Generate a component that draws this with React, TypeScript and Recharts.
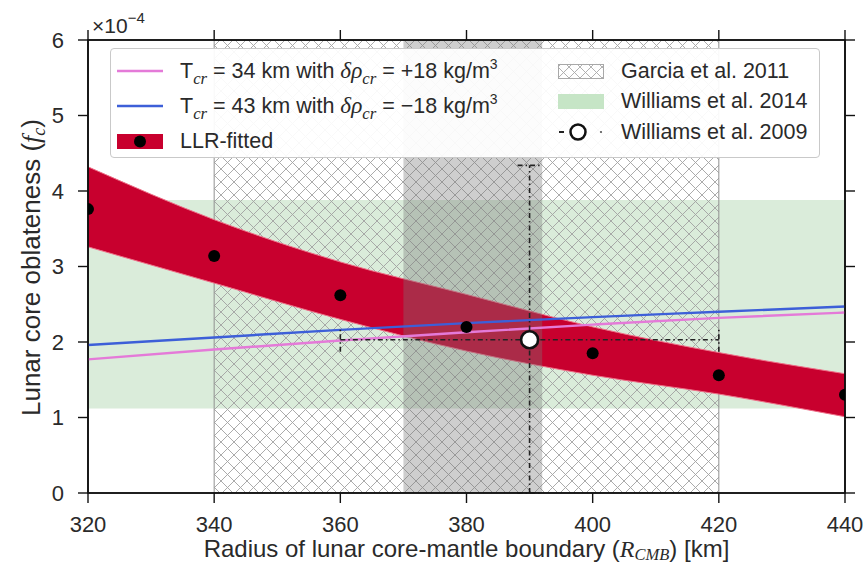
import React from 'react';
import {
  ComposedChart,
  XAxis,
  YAxis,
  Area,
  Line,
  Scatter,
  ReferenceArea,
  ErrorBar,
  Legend,
} from 'recharts';

// ---------- data ----------
const radius = [320, 340, 360, 380, 400, 420, 440];
const llrLower = [3.26, 2.78, 2.3, 1.88, 1.56, 1.31, 1.01];
const llrUpper = [4.32, 3.62, 3.06, 2.63, 2.2, 1.86, 1.58];
const llrFitted = [3.76, 3.14, 2.62, 2.2, 1.85, 1.56, 1.3];
const tcr34 = [1.77, 1.9, 2.02, 2.13, 2.23, 2.32, 2.39];
const tcr43 = [1.96, 2.06, 2.16, 2.25, 2.33, 2.4, 2.47];
const garciaRange = [340, 420];
const williams2014Range = [1.12, 3.88];
const grayRange = [370, 392];
const williams2009X = [390];
const williams2009Y = [2.03];
const williams2009XErr = [30];
const williams2009YErr: [number, number][] = [[2.03, 2.31]];
const xTicks = [320, 340, 360, 380, 400, 420, 440];
const yTicks = [0, 1, 2, 3, 4, 5, 6];
const xDomain: [number, number] = [320, 440];
const yDomain: [number, number] = [0, 6];

const bandData = radius.map((x, i) => ({ x, band: [llrLower[i], llrUpper[i]] }));
const tcr34Data = radius.map((x, i) => ({ x, y: tcr34[i] }));
const tcr43Data = radius.map((x, i) => ({ x, y: tcr43[i] }));
const fittedData = radius.map((x, i) => ({ x, y: llrFitted[i] }));
const w2009Data = williams2009X.map((x, i) => ({
  x,
  y: williams2009Y[i],
  xErr: williams2009XErr[i],
  yErr: williams2009YErr[i],
}));

// ---------- styles ----------
const FONT = "'Liberation Sans', Arial, Helvetica, sans-serif";
const SERIF = "'Liberation Serif', 'DejaVu Serif', serif";
const PINK = '#e47ad8';
const BLUE = '#3d5fd8';
const RED = '#c8002e';
const GREEN = '#daecda';
const TEXT = '#2a2a2a';
const AXIS = '#111';
const TICK_SIZE = 10;
const TICK_MARGIN_X = 13;
const TICK_MARGIN_Y = 14;
const TICK_FONT = 22;

const sub = (t: string) => (
  <span
    style={{
      fontFamily: SERIF,
      fontStyle: 'italic',
      fontSize: '0.78em',
      position: 'relative',
      top: '0.38em',
    }}
  >
    {t}
  </span>
);
const ital = (t: string) => <span style={{ fontFamily: SERIF, fontStyle: 'italic', fontSize: '1.08em' }}>{t}</span>;
const sup = (t: string) => (
  <span style={{ fontSize: '0.65em', position: 'relative', top: '-0.6em' }}>{t}</span>
);

const Row = ({ left, cy, icon, children }: any) => (
  <div
    style={{
      position: 'absolute',
      left,
      top: cy - 15,
      height: 30,
      display: 'flex',
      alignItems: 'center',
      whiteSpace: 'nowrap',
    }}
  >
    <svg width={46} height={30} style={{ display: 'block' }}>
      {icon}
    </svg>
    <span style={{ marginLeft: 17, lineHeight: '30px' }}>{children}</span>
  </div>
);

const LegendBox = () => (
  <div
    style={{
      position: 'relative',
      width: 710,
      height: 110,
      boxSizing: 'border-box',
      border: '1px solid #c9c9c9',
      borderRadius: 4,
      background: 'rgba(255,255,255,0.93)',
      fontFamily: FONT,
      fontSize: 21.5,
      color: TEXT,
    }}
  >
    <Row left={6} cy={22} icon={<line x1={0} y1={15} x2={46} y2={15} stroke={PINK} strokeWidth={2.5} />}>
      T{sub('cr')} = 34 km with {ital('δρ')}
      {sub('cr')} = +18 kg/m{sup('3')}
    </Row>
    <Row left={6} cy={57} icon={<line x1={0} y1={15} x2={46} y2={15} stroke={BLUE} strokeWidth={2.5} />}>
      T{sub('cr')} = 43 km with {ital('δρ')}
      {sub('cr')} = −18 kg/m{sup('3')}
    </Row>
    <Row
      left={6}
      cy={92}
      icon={
        <g>
          <rect x={0} y={8} width={46} height={15} fill={RED} />
          <circle cx={23} cy={15.5} r={6} fill="#000" />
        </g>
      }
    >
      LLR-fitted
    </Row>
    <Row
      left={447}
      cy={22}
      icon={
        <g>
          <defs>
            <pattern id="hatchLegend" patternUnits="userSpaceOnUse" width={11} height={11}>
              <path d="M0,0 L11,11 M11,0 L0,11" stroke="#a8a8a8" strokeWidth={0.9} />
            </pattern>
          </defs>
          <rect x={0.5} y={8.5} width={45} height={14} fill="url(#hatchLegend)" stroke="#a8a8a8" strokeWidth={1} />
        </g>
      }
    >
      Garcia et al. 2011
    </Row>
    <Row left={447} cy={52} icon={<rect x={0} y={8} width={46} height={15} fill="#c6e5c6" />}>
      Williams et al. 2014
    </Row>
    <Row
      left={447}
      cy={83}
      icon={
        <g>
          <line x1={1} y1={15} x2={6} y2={15} stroke="#222" strokeWidth={2} />
          <circle cx={20} cy={15} r={7.5} fill="#fff" stroke="#111" strokeWidth={2.5} />
          <circle cx={43} cy={15} r={1.1} fill="#555" />
        </g>
      }
    >
      Williams et al. 2009
    </Row>
  </div>
);

const XLabel = (props: any) => {
  const vb = props.viewBox || { x: 88, y: 493, width: 757, height: 50 };
  return (
    <text
      x={vb.x + vb.width / 2}
      y={vb.y + 64}
      textAnchor="middle"
      fontFamily={FONT}
      fontSize={24}
      fill={TEXT}
    >
      Radius of lunar core-mantle boundary (
      <tspan fontFamily={SERIF} fontStyle="italic">
        R
      </tspan>
      <tspan fontFamily={SERIF} fontStyle="italic" fontSize={16.5} dy={3}>
        CMB
      </tspan>
      <tspan dy={-3}>) [km]</tspan>
    </text>
  );
};

const YLabel = (props: any) => {
  const vb = props.viewBox || { x: 28, y: 40, width: 60, height: 453 };
  const cx = vb.x + 12;
  const cy = vb.y + vb.height / 2 + 1;
  return (
    <text
      x={cx}
      y={cy}
      transform={`rotate(-90 ${cx} ${cy})`}
      textAnchor="middle"
      fontFamily={FONT}
      fontSize={26}
      fill={TEXT}
    >
      Lunar core oblateness (
      <tspan fontFamily={SERIF} fontStyle="italic">
        f
      </tspan>
      <tspan fontFamily={SERIF} fontStyle="italic" fontSize={18} dy={5}>
        c
      </tspan>
      <tspan dy={-5}>)</tspan>
    </text>
  );
};

const ScaleLabel = (props: any) => {
  const vb = props.viewBox || { x: 88, y: 38 };
  return (
    <text x={vb.x + 4} y={vb.y - 6.5} fontFamily={FONT} fontSize={21} fill={TEXT}>
      ×10
      <tspan fontSize={15} dy={-10}>
        −4
      </tspan>
    </text>
  );
};

// tick renderers: tick mark + label, positioned from the coordinates the axis hands over
const BottomTick = (p: any) => {
  const axisY = p.y - TICK_MARGIN_X - TICK_SIZE;
  return (
    <g>
      <line x1={p.x} x2={p.x} y1={axisY} y2={axisY + TICK_SIZE} stroke={AXIS} strokeWidth={1.4} />
      <text x={p.x} y={p.y} dy="0.71em" textAnchor="middle" fontFamily={FONT} fontSize={TICK_FONT} fill={TEXT}>
        {p.payload.value}
      </text>
    </g>
  );
};
const LeftTick = (p: any) => {
  const axisX = p.x + TICK_MARGIN_Y + TICK_SIZE;
  return (
    <g>
      <line x1={axisX - TICK_SIZE} x2={axisX} y1={p.y} y2={p.y} stroke={AXIS} strokeWidth={1.4} />
      <text x={p.x} y={p.y} dy="0.355em" textAnchor="end" fontFamily={FONT} fontSize={TICK_FONT} fill={TEXT}>
        {p.payload.value}
      </text>
    </g>
  );
};
const TopTick = (p: any) => {
  const axisY = p.y + TICK_SIZE;
  return <line x1={p.x} x2={p.x} y1={axisY - TICK_SIZE} y2={axisY} stroke={AXIS} strokeWidth={1.4} />;
};
const RightTick = (p: any) => {
  const axisX = p.x - TICK_SIZE;
  return <line x1={axisX} x2={axisX + TICK_SIZE} y1={p.y} y2={p.y} stroke={AXIS} strokeWidth={1.4} />;
};

export default function App() {
  return (
    <div style={{ position: 'absolute', left: 0, top: 0, width: 866, height: 566, background: '#fff' }}>
      <ComposedChart
        width={866}
        height={566}
        margin={{ top: 39, right: 20, bottom: 23, left: 28 }}
      >
        <defs>
          <pattern id="garciaHatch" patternUnits="userSpaceOnUse" width={13} height={13}>
            <path d="M0,0 L13,13 M13,0 L0,13" stroke="#a2a2a2" strokeWidth={0.9} />
          </pattern>
        </defs>
        <XAxis
          type="number"
          dataKey="x"
          domain={xDomain}
          ticks={xTicks}
          interval={0}
          allowDataOverflow
          stroke={AXIS}
          strokeWidth={1.6}
          tickLine={false}
          tickSize={TICK_SIZE}
          tickMargin={TICK_MARGIN_X}
          tick={BottomTick}
          height={50}
          label={XLabel}
        />
        <XAxis
          xAxisId="top"
          orientation="top"
          type="number"
          dataKey="x"
          domain={xDomain}
          ticks={xTicks}
          interval={0}
          allowDataOverflow
          stroke={AXIS}
          strokeWidth={1.6}
          tickLine={false}
          tickSize={TICK_SIZE}
          tickMargin={0}
          tick={TopTick}
          height={1}
          label={ScaleLabel}
        />
        <YAxis
          type="number"
          domain={yDomain}
          ticks={yTicks}
          interval={0}
          allowDataOverflow
          stroke={AXIS}
          strokeWidth={1.6}
          tickLine={false}
          tickSize={TICK_SIZE}
          tickMargin={TICK_MARGIN_Y}
          tick={LeftTick}
          width={60}
          label={YLabel}
        />
        <YAxis
          yAxisId="right"
          orientation="right"
          type="number"
          domain={yDomain}
          ticks={yTicks}
          interval={0}
          allowDataOverflow
          stroke={AXIS}
          strokeWidth={1.6}
          tickLine={false}
          tickSize={TICK_SIZE}
          tickMargin={0}
          tick={RightTick}
          width={1}
        />
        <ReferenceArea
          x1={xDomain[0]}
          x2={xDomain[1]}
          y1={williams2014Range[0]}
          y2={williams2014Range[1]}
          fill={GREEN}
          fillOpacity={1}
          stroke="none"
          ifOverflow="hidden"
        />
        <ReferenceArea
          x1={garciaRange[0]}
          x2={garciaRange[1]}
          y1={yDomain[0]}
          y2={yDomain[1]}
          fill="url(#garciaHatch)"
          fillOpacity={1}
          stroke="#909090"
          strokeWidth={1}
          ifOverflow="hidden"
        />
        <Area
          data={bandData}
          dataKey="band"
          type="monotone"
          fill={RED}
          fillOpacity={1}
          stroke="#ee6f88"
          strokeWidth={1}
          isAnimationActive={false}
          activeDot={false}
          dot={false}
        />
        <ReferenceArea
          x1={grayRange[0]}
          x2={grayRange[1]}
          y1={yDomain[0]}
          y2={yDomain[1]}
          fill="#777"
          fillOpacity={0.36}
          stroke="none"
          ifOverflow="hidden"
        />
        <Line
          data={tcr34Data}
          dataKey="y"
          type="monotone"
          stroke={PINK}
          strokeWidth={2.4}
          dot={false}
          activeDot={false}
          isAnimationActive={false}
        />
        <Line
          data={tcr43Data}
          dataKey="y"
          type="monotone"
          stroke={BLUE}
          strokeWidth={2.4}
          dot={false}
          activeDot={false}
          isAnimationActive={false}
        />
        <Scatter
          data={fittedData}
          dataKey="y"
          isAnimationActive={false}
          shape={(p: any) => <circle cx={p.cx} cy={p.cy} r={6} fill="#000" />}
        />
        <Scatter
          data={w2009Data}
          dataKey="y"
          isAnimationActive={false}
          shape={(p: any) => (
            <circle cx={p.cx} cy={p.cy} r={8.5} fill="#fff" stroke="#111" strokeWidth={2.6} />
          )}
        >
          <ErrorBar
            dataKey="xErr"
            direction="x"
            width={12}
            stroke="#222"
            strokeWidth={1.6}
            strokeDasharray="5 3 1.5 3"
            isAnimationActive={false}
          />
          <ErrorBar
            dataKey="yErr"
            direction="y"
            width={12}
            stroke="#222"
            strokeWidth={1.6}
            strokeDasharray="5 3 1.5 3"
            isAnimationActive={false}
          />
        </Scatter>
        <ReferenceArea
          x1={xDomain[0]}
          x2={xDomain[1]}
          y1={yDomain[0]}
          y2={yDomain[1]}
          fill="none"
          stroke={AXIS}
          strokeWidth={1.6}
          ifOverflow="visible"
        />
        <Legend
          layout="horizontal"
          verticalAlign="middle"
          align="center"
          content={() => <LegendBox />}
          wrapperStyle={{ position: 'absolute', left: 110, top: 48, width: 710, height: 110 }}
        />
      </ComposedChart>
    </div>
  );
}
